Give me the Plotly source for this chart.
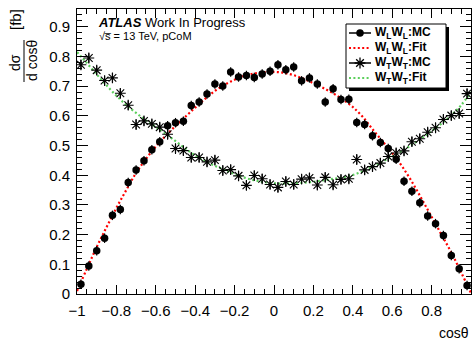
import plotly.graph_objects as go

# ---------------- data ----------------
bin_centers = [-0.98, -0.94, -0.90, -0.86, -0.82, -0.78, -0.74, -0.70, -0.66, -0.62,
               -0.58, -0.54, -0.50, -0.46, -0.42, -0.38, -0.34, -0.30, -0.26, -0.22,
               -0.18, -0.14, -0.10, -0.06, -0.02, 0.02, 0.06, 0.10, 0.14, 0.18,
               0.22, 0.26, 0.30, 0.34, 0.38, 0.42, 0.46, 0.50, 0.54, 0.58,
               0.62, 0.66, 0.70, 0.74, 0.78, 0.82, 0.86, 0.90, 0.94, 0.98]

wlwl_mc = [0.033, 0.094, 0.146, 0.188, 0.265, 0.285, 0.376, 0.418, 0.449, 0.486,
           0.513, 0.567, 0.577, 0.582, 0.635, 0.647, 0.674, 0.707, 0.701, 0.748,
           0.731, 0.736, 0.729, 0.741, 0.750, 0.772, 0.755, 0.765, 0.718, 0.728,
           0.707, 0.647, 0.691, 0.655, 0.656, 0.578, 0.571, 0.533, 0.510, 0.490,
           0.454, 0.380, 0.346, 0.307, 0.263, 0.237, 0.197, 0.130, 0.085, 0.029]

wtwt_mc = [0.772, 0.795, 0.754, 0.719, 0.728, 0.676, 0.636, 0.571, 0.583, 0.573,
           0.562, 0.538, 0.490, 0.483, 0.460, 0.460, 0.445, 0.451, 0.416, 0.419,
           0.398, 0.366, 0.399, 0.388, 0.369, 0.359, 0.379, 0.369, 0.387, 0.391,
           0.367, 0.393, 0.368, 0.386, 0.388, 0.453, 0.418, 0.429, 0.441, 0.463,
           0.475, 0.482, 0.513, 0.523, 0.545, 0.560, 0.588, 0.601, 0.608, 0.675]

mc_err = [0.016] * 50

fit_x = [-1.00, -0.95, -0.90, -0.85, -0.80, -0.75, -0.70, -0.65, -0.60, -0.55,
         -0.50, -0.45, -0.40, -0.35, -0.30, -0.25, -0.20, -0.15, -0.10, -0.05,
         0.00, 0.05, 0.10, 0.15, 0.20, 0.25, 0.30, 0.35, 0.40, 0.45,
         0.50, 0.55, 0.60, 0.65, 0.70, 0.75, 0.80, 0.85, 0.90, 0.95, 1.00]

wlwl_fit = [0.010, 0.085, 0.158, 0.225, 0.290, 0.350, 0.408, 0.455, 0.497, 0.533,
            0.566, 0.597, 0.628, 0.657, 0.684, 0.705, 0.722, 0.735, 0.743, 0.747,
            0.748, 0.745, 0.737, 0.725, 0.710, 0.694, 0.676, 0.655, 0.630, 0.597,
            0.555, 0.515, 0.475, 0.430, 0.378, 0.320, 0.260, 0.200, 0.140, 0.073, 0.003]

wtwt_fit = [0.815, 0.778, 0.740, 0.703, 0.668, 0.637, 0.610, 0.585, 0.563, 0.540,
            0.515, 0.490, 0.467, 0.448, 0.432, 0.418, 0.404, 0.392, 0.383, 0.377,
            0.373, 0.372, 0.373, 0.375, 0.378, 0.383, 0.388, 0.393, 0.401, 0.413,
            0.428, 0.446, 0.463, 0.482, 0.503, 0.525, 0.549, 0.574, 0.602, 0.636, 0.680]

x_ticks = [-1, -0.8, -0.6, -0.4, -0.2, 0, 0.2, 0.4, 0.6, 0.8, 1]
y_ticks = [0, 0.1, 0.2, 0.3, 0.4, 0.5, 0.6, 0.7, 0.8, 0.9]

legend_labels = ["<b>W<sub>L</sub>W<sub>L</sub>:MC</b>", "<b>W<sub>L</sub>W<sub>L</sub>:Fit</b>",
                 "<b>W<sub>T</sub>W<sub>T</sub>:MC</b>", "<b>W<sub>T</sub>W<sub>T</sub>:Fit</b>"]

# ---------------- layout geometry (pixels) ----------------
W, H = 474, 343
L, R, T, B = 77, 3, 9, 49
PW, PH = W - L - R, H - T - B
FONT = "Liberation Sans, Arial, sans-serif"
RED = "#ff0000"
GREEN = "#5ccf5c"


def px(x):
    return (x - L) / PW


def py(y):
    return (H - B - y) / PH


fig = go.Figure()

fig.add_trace(go.Scatter(x=fit_x, y=wlwl_fit, mode="lines", line_shape="spline",
                         line=dict(color=RED, width=2.2, dash="2px,2.4px"), showlegend=False))
fig.add_trace(go.Scatter(x=fit_x, y=wtwt_fit, mode="lines", line_shape="spline",
                         line=dict(color=GREEN, width=2.2, dash="2px,2.4px"), showlegend=False))
fig.add_trace(go.Scatter(x=bin_centers, y=wlwl_mc, mode="markers",
                         marker=dict(symbol="circle", size=7.5, color="black"),
                         error_y=dict(type="data", array=mc_err, color="black", thickness=1.2, width=0),
                         showlegend=False))
fig.add_trace(go.Scatter(x=bin_centers, y=wtwt_mc, mode="markers",
                         marker=dict(symbol="asterisk-open", size=9, color="black",
                                     line=dict(color="black", width=1.1)),
                         error_y=dict(type="data", array=mc_err, color="black", thickness=1.2, width=0),
                         showlegend=False))

# ---------------- legend (manual, ROOT style) ----------------
lx0, lx1, ly0, ly1 = 346, 446, 24, 88
shapes = [
    dict(type="rect", xref="paper", yref="paper", x0=px(lx0 + 3), x1=px(lx1 + 3),
         y0=py(ly1 + 3), y1=py(ly0 + 3), fillcolor="black", line=dict(width=0), layer="below"),
    dict(type="rect", xref="paper", yref="paper", x0=px(lx0), x1=px(lx1),
         y0=py(ly1), y1=py(ly0), fillcolor="white", line=dict(color="black", width=1), layer="below"),
]
rows = [33, 48, 63, 78]
sym_x0, sym_x1 = 349, 371
line_styles = [dict(color="black", width=1.5), dict(color=RED, width=2.2, dash="2px,2.4px"),
               dict(color="black", width=1.5), dict(color=GREEN, width=2.2, dash="2px,2.4px")]
for r, ls in zip(rows, line_styles):
    shapes.append(dict(type="line", xref="paper", yref="paper", x0=px(sym_x0), x1=px(sym_x1),
                       y0=py(r), y1=py(r), line=ls, layer="below"))

# y-axis title fraction bar
shapes.append(dict(type="line", xref="paper", yref="paper", x0=px(24), x1=px(24),
                   y0=py(82), y1=py(40), line=dict(color="black", width=1)))

# legend markers on an overlay pixel axis
fig.add_trace(go.Scatter(x=[(sym_x0 + sym_x1) / 2], y=[rows[0]], mode="markers",
                         marker=dict(symbol="circle", size=7.5, color="black"),
                         xaxis="x2", yaxis="y2", showlegend=False))
fig.add_trace(go.Scatter(x=[(sym_x0 + sym_x1) / 2], y=[rows[2]], mode="markers",
                         marker=dict(symbol="asterisk-open", size=9, color="black",
                                     line=dict(color="black", width=1.3)),
                         xaxis="x2", yaxis="y2", showlegend=False))

annotations = []
for r, lab in zip(rows, legend_labels):
    annotations.append(dict(x=px(373), y=py(r), xref="paper", yref="paper", text=lab,
                            showarrow=False, xanchor="left", yanchor="middle",
                            font=dict(family=FONT, size=12, color="black")))

annotations += [
    dict(x=px(96), y=py(22), xref="paper", yref="paper",
         text="<b><i>ATLAS</i></b> Work In Progress", showarrow=False,
         xanchor="left", yanchor="middle", font=dict(family=FONT, size=13, color="black")),
    dict(x=px(97), y=py(36), xref="paper", yref="paper",
         text="√s̅ = 13 TeV, pCoM", showarrow=False,
         xanchor="left", yanchor="middle", font=dict(family=FONT, size=11, color="black")),
    dict(x=px(471), y=py(333), xref="paper", yref="paper", text="cosθ", showarrow=False,
         xanchor="right", yanchor="middle", font=dict(family=FONT, size=14, color="black")),
    dict(x=px(15), y=py(20), xref="paper", yref="paper", text="[fb]", showarrow=False,
         textangle=-90, xanchor="center", yanchor="middle",
         font=dict(family=FONT, size=15, color="black")),
    dict(x=px(15), y=py(63), xref="paper", yref="paper", text="dσ", showarrow=False,
         textangle=-90, xanchor="center", yanchor="middle",
         font=dict(family=FONT, size=14, color="black")),
    dict(x=px(32), y=py(61), xref="paper", yref="paper", text="d cosθ", showarrow=False,
         textangle=-90, xanchor="center", yanchor="middle",
         font=dict(family=FONT, size=14, color="black")),
]

fig.update_layout(
    width=W, height=H,
    margin=dict(l=L, r=R, t=T, b=B, pad=0),
    paper_bgcolor="white", plot_bgcolor="white",
    showlegend=False,
    shapes=shapes, annotations=annotations,
    xaxis=dict(range=[-1, 1], tickvals=x_ticks, ticks="inside", ticklen=9, tickwidth=1,
               tickcolor="black", showline=True, linecolor="black", linewidth=1,
               mirror="allticks", showgrid=False, zeroline=False,
               tickfont=dict(family=FONT, size=15, color="black"), ticklabelstandoff=3,
               minor=dict(dtick=0.05, tick0=-1, ticks="inside", ticklen=5, tickcolor="black",
                          showgrid=False)),
    yaxis=dict(range=[0, 0.96], tickvals=y_ticks, ticks="inside", ticklen=11, tickwidth=1,
               tickcolor="black", showline=True, linecolor="black", linewidth=1,
               mirror="allticks", showgrid=False, zeroline=False,
               tickfont=dict(family=FONT, size=15, color="black"), ticklabelstandoff=3,
               minor=dict(dtick=0.02, tick0=0, ticks="inside", ticklen=5, tickcolor="black",
                          showgrid=False)),
    xaxis2=dict(range=[L, L + PW], overlaying="x", visible=False, domain=[0, 1]),
    yaxis2=dict(range=[H - B, T], overlaying="y", visible=False, domain=[0, 1]),
)

fig.write_html("out.html")
